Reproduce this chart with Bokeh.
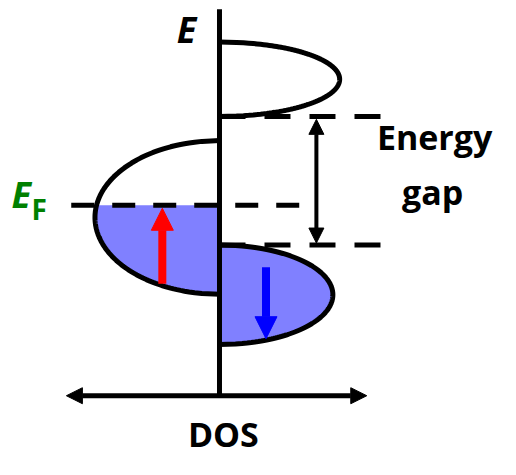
import numpy as np
from bokeh.plotting import figure
from bokeh.models import Range1d, Arrow, NormalHead
from bokeh.core.properties import value
from bokeh.embed import file_html
from bokeh.resources import INLINE

# ---- data (energy in arbitrary units, E_F = 0; DOS in arbitrary units, spin-up to the left) ----
band_names = ["upper (spin down)", "lower (spin up)", "lower (spin down)"]
band_center = [130.5, -12.5, -92.5]      # band centre energy
band_halfwidth = [38.5, 79.5, 51.5]      # half of band energy width
band_peak = [124.0, -128.5, 117.0]       # peak DOS (sign = spin side)
band_filled_below = [None, 0.0, 10000.0] # states filled up to this energy

fermi_level = 0.0
fermi_extent = [-153.0, 84.0]
gap_top = 92.0
gap_bottom = -41.0
gap_line_extent = [0.0, 169.0]
gap_arrow_dos = 100.0

axis_e_top = 203.0
axis_e_bottom = -197.0
dos_axis_extent = [-158.0, 152.0]

spin_arrow_dos = [-59.0, 48.0]
spin_arrow_start = [-81.0, -64.0]
spin_arrow_end = [-3.0, -138.0]
spin_arrow_color = ["#FF0000", "#0000FF"]

FILL = "#8080FF"
FONT = "Open Sans"
TXT_SHIFT = 14.5  # baseline compensation for svg text rendering

p = figure(width=500, height=459, output_backend="svg", toolbar_location=None,
           x_range=Range1d(-226, 290), y_range=Range1d(-263, 212),
           x_axis_type=None, y_axis_type=None, min_border=0)
p.grid.visible = False
p.outline_line_color = None
p.background_fill_color = "white"
p.border_fill_color = "white"


def half_ellipse(c, h, w, emin=None, emax=None, n=200):
    lo = c - h if emin is None else max(c - h, emin)
    hi = c + h if emax is None else min(c + h, emax)
    e = np.linspace(lo, hi, n)
    d = w * np.sqrt(np.clip(1 - ((e - c) / h) ** 2, 0, 1))
    return d, e


# fills
for c, h, w, f in zip(band_center, band_halfwidth, band_peak, band_filled_below):
    if f is None:
        continue
    d, e = half_ellipse(c, h, w, emax=f)
    xs = np.concatenate([[0.0], d, [0.0]])
    ys = np.concatenate([[e[0]], e, [e[-1]]])
    p.patch(xs, ys, fill_color=FILL, line_color=None)

# outlines
for c, h, w in zip(band_center, band_halfwidth, band_peak):
    d, e = half_ellipse(c, h, w)
    p.line(d, e, line_color="black", line_width=5)

# dashed lines
p.line(fermi_extent, [fermi_level, fermi_level], line_color="black", line_width=5, line_dash="23 18")
for lvl in (gap_top, gap_bottom):
    p.line(gap_line_extent, [lvl, lvl], line_color="black", line_width=5, line_dash="26 19")

# energy axis
p.line([0, 0], [axis_e_bottom, axis_e_top], line_color="black", line_width=5)

# DOS axis (double arrow)
p.add_layout(Arrow(start=NormalHead(size=16, fill_color="black", line_color="black"),
                   end=NormalHead(size=16, fill_color="black", line_color="black"),
                   x_start=dos_axis_extent[0], y_start=axis_e_bottom,
                   x_end=dos_axis_extent[1], y_end=axis_e_bottom,
                   line_color="black", line_width=5))

# energy gap arrow
p.add_layout(Arrow(start=NormalHead(size=15, fill_color="black", line_color="black"),
                   end=NormalHead(size=15, fill_color="black", line_color="black"),
                   x_start=gap_arrow_dos, y_start=gap_bottom + 2,
                   x_end=gap_arrow_dos, y_end=gap_top - 3,
                   line_color="black", line_width=4))

# spin arrows
for x, s, e, col in zip(spin_arrow_dos, spin_arrow_start, spin_arrow_end, spin_arrow_color):
    p.add_layout(Arrow(end=NormalHead(size=22, fill_color=col, line_color=col),
                       x_start=x, y_start=s, x_end=x, y_end=e,
                       line_color=col, line_width=8))

# labels
def label(x, y, t, style, size, color="black", shift=TXT_SHIFT):
    p.text(x=[x], y=[y + shift], text=[t], text_font=value(FONT), text_font_style=style,
           text_font_size=size, text_align="center", text_baseline="alphabetic", text_color=color)

label(-34, 167, "E", "bold italic", "36px")
label(-204.5, -3, "E", "bold italic", "36px", "#008000")
label(-186, -18, "F", "bold", "28px", "#008000")
label(222, 56, "Energy", "bold", "34px", shift=15)
label(220, -1, "gap", "bold", "34px", shift=15)
label(4, -255, "DOS", "bold", "34px", shift=18)

open("out.html", "w").write(file_html(p, INLINE))
